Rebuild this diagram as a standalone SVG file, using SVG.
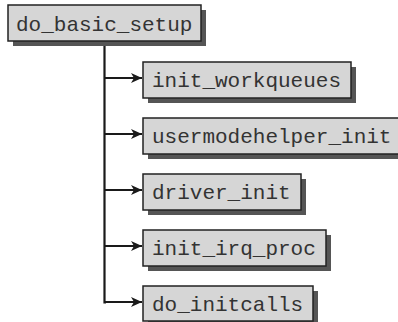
<svg xmlns="http://www.w3.org/2000/svg" width="398" height="322" viewBox="0 0 398 322">
<style>
.sh{fill:#555555}
.bx{fill:#d6d6d6;stroke:#222222;stroke-width:1.5}
.t{font-family:"Liberation Mono","Courier New",monospace;font-size:21px;fill:#333333}
.ln{stroke:#1a1a1a;stroke-width:2.2;fill:none}
</style>
<defs>
<marker id="ah" markerWidth="12" markerHeight="10" refX="11" refY="5" orient="auto" markerUnits="userSpaceOnUse">
<path d="M0,0 L11,5 L0,10 L3,5 Z" fill="#1a1a1a"/>
</marker>
</defs>
<rect width="398" height="322" fill="#ffffff"/>
<g id="connectors">
<path class="ln" d="M104.5,41 V302.5 H106"/>
<path class="ln" d="M104.5,78 H142" marker-end="url(#ah)"/>
<path class="ln" d="M104.5,134 H142" marker-end="url(#ah)"/>
<path class="ln" d="M104.5,190 H142" marker-end="url(#ah)"/>
<path class="ln" d="M104.5,246 H142" marker-end="url(#ah)"/>
<path class="ln" d="M104.5,302 H142" marker-end="url(#ah)"/>
</g>
<g id="do_basic_setup">
<rect class="sh" x="13" y="10" width="193" height="36"/>
<rect class="bx" x="8" y="5" width="193" height="36"/>
<text class="t" x="16" y="31">do_basic_setup</text>
</g>
<g id="init_workqueues">
<rect class="sh" x="148" y="67" width="208" height="36"/>
<rect class="bx" x="143" y="62" width="208" height="36"/>
<text class="t" x="152" y="87">init_workqueues</text>
</g>
<g id="usermodehelper_init">
<rect class="sh" x="148" y="123" width="260" height="36"/>
<rect class="bx" x="143" y="118" width="260" height="36"/>
<text class="t" x="152" y="143">usermodehelper_init</text>
</g>
<g id="driver_init">
<rect class="sh" x="148" y="179" width="158" height="36"/>
<rect class="bx" x="143" y="174" width="158" height="36"/>
<text class="t" x="152" y="199">driver_init</text>
</g>
<g id="init_irq_proc">
<rect class="sh" x="148" y="235" width="183" height="36"/>
<rect class="bx" x="143" y="230" width="183" height="36"/>
<text class="t" x="152" y="255">init_irq_proc</text>
</g>
<g id="do_initcalls">
<rect class="sh" x="148" y="291" width="170" height="35"/>
<rect class="bx" x="143" y="286" width="170" height="35"/>
<text class="t" x="152" y="311">do_initcalls</text>
</g>
</svg>
